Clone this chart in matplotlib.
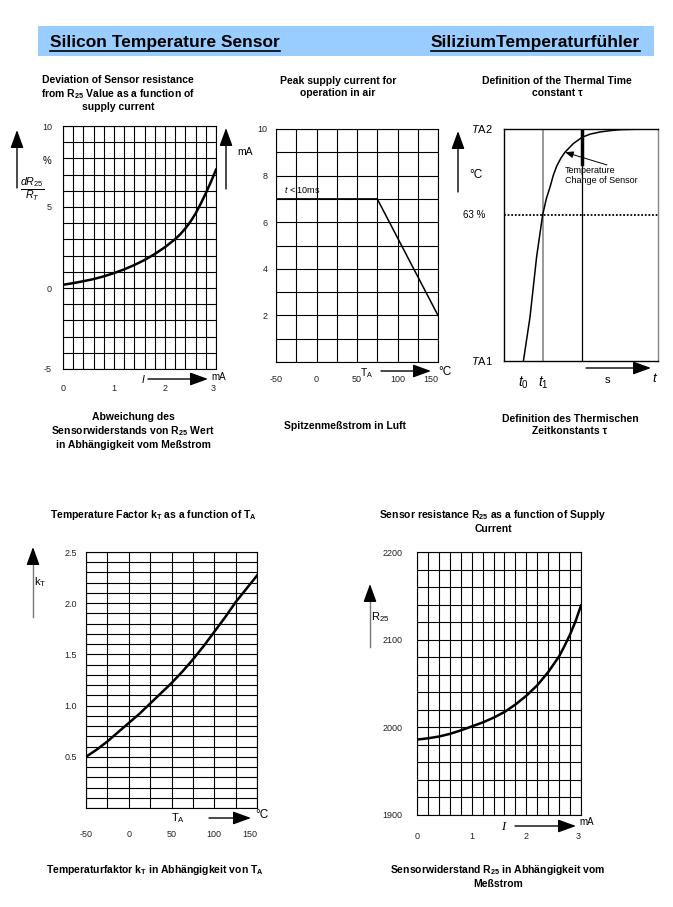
import numpy as np
import matplotlib
matplotlib.use('Agg')
import matplotlib.pyplot as plt
from matplotlib.patches import Rectangle

plt.rcParams['font.family'] = ['Liberation Sans', 'DejaVu Sans']
plt.rcParams['mathtext.fontset'] = 'custom'
plt.rcParams['mathtext.rm'] = 'Liberation Sans'
plt.rcParams['mathtext.it'] = 'Liberation Sans:italic'
plt.rcParams['mathtext.bf'] = 'Liberation Sans:bold'
plt.rcParams['mathtext.default'] = 'regular'

# Deviation of sensor resistance vs supply current (mA -> %)
dev_current = [0, 0.2, 0.4, 0.6, 0.8, 1.0, 1.2, 1.4, 1.6, 1.8, 2.0, 2.2, 2.3, 2.4, 2.5,
               2.6, 2.7, 2.8, 2.9, 3.0]
dev_percent = [0.2, 0.3, 0.42, 0.55, 0.72, 0.92, 1.15, 1.42, 1.73, 2.1, 2.52, 3.02, 3.32,
               3.68, 4.1, 4.6, 5.2, 5.85, 6.55, 7.3]

# Peak supply current in air (degC -> mA)
peak_temp = [-50, 75, 150]
peak_current = [7, 7, 2]

# Thermal time constant (relative time -> fraction of TA2-TA1)
tau_time = [1.26, 1.69, 2.12, 2.51, 2.75, 2.99, 3.2, 3.42, 3.7, 3.96, 4.5, 5.06, 5.6,
            6.23, 6.9, 7.53, 8.5, 9.5]
tau_level = [0.0, 0.19, 0.45, 0.63, 0.70, 0.75, 0.80, 0.84, 0.875, 0.90, 0.937, 0.964,
             0.978, 0.987, 0.993, 0.997, 0.999, 1.0]
t0, t1, t_s = 1.26, 2.53, 5.06

# Temperature factor kT vs TA
kt_temp = [-50, -37.5, -25, -12.5, 0, 12.5, 25, 37.5, 50, 62.5, 75, 87.5, 100, 112.5,
           125, 137.5, 150]
kt_value = [0.5, 0.57, 0.65, 0.74, 0.83, 0.92, 1.02, 1.12, 1.22, 1.33, 1.45, 1.58, 1.72,
            1.86, 2.01, 2.14, 2.27]

# Sensor resistance R25 vs supply current
r25_current = [0, 0.2, 0.4, 0.6, 0.8, 1.0, 1.2, 1.4, 1.6, 1.8, 2.0, 2.2, 2.4, 2.6, 2.7,
               2.8, 2.9, 3.0]
r25_value = [1986, 1987.5, 1989.5, 1992.5, 1996.5, 2001, 2005.5, 2011, 2017.5, 2026, 2036,
             2048, 2063, 2081, 2093, 2106, 2121, 2139]

W, H = 673, 907
fig = plt.figure(figsize=(W / 100, H / 100), dpi=100)

def panel(l, t, r, b):
    return fig.add_axes([l / W, 1 - b / H, (r - l) / W, (b - t) / H])

def grid_setup(ax, xlim, ylim, xstep, ystep, xticks, yticks, ylabels, xpad, ypad):
    ax.set_xlim(xlim)
    ax.set_ylim(ylim)
    ax.set_xticks(np.arange(xlim[0], xlim[1] + xstep / 2, xstep), minor=True)
    ax.set_yticks(np.arange(ylim[0], ylim[1] + ystep / 2, ystep), minor=True)
    ax.set_xticks(xticks)
    ax.set_xticklabels([str(v) for v in xticks])
    ax.set_yticks(yticks)
    ax.set_yticklabels(ylabels)
    ax.tick_params(which='both', length=0, labelsize=6.5, labelcolor='#222222')
    ax.tick_params(axis='x', pad=xpad)
    ax.tick_params(axis='y', pad=ypad)
    ax.grid(which='both', color='black', lw=0.8)
    for s in ax.spines.values():
        s.set_linewidth(0.8)

# panel 1: deviation
ax1 = panel(63, 126, 216, 369)
grid_setup(ax1, (0, 3), (-5, 10), 0.2, 1, [0, 1, 2, 3], [-5, 0, 5, 10],
           ['-5', '0', '5', '10'], 10.5, 8)
ax1.get_xticklabels()[-1].set_ha('right')
ax1.plot(dev_current, dev_percent, color='black', lw=1.8)

# panel 2: peak current
ax2 = panel(276, 129, 438, 362)
grid_setup(ax2, (-50, 150), (0, 10), 25, 1, [-50, 0, 50, 100, 150], [2, 4, 6, 8, 10],
           ['2', '4', '6', '8', '10'], 9.5, 6)
ax2.get_xticklabels()[-1].set_ha('right')
ax2.plot(peak_temp, peak_current, color='black', lw=1.1)
ax2.text(-40, 7.4, r'$\mathit{t}$ < 10ms', fontsize=6.5, va='center')

# panel 3: thermal time constant
ax3 = panel(504, 129, 658, 361)
ax3.set_xlim(0, 10)
ax3.set_ylim(0, 1)
ax3.set_xticks([])
ax3.set_yticks([])
for s in ax3.spines.values():
    s.set_linewidth(1)
ax3.spines['right'].set_color('#888888')
ax3.axvline(t1, color='#888888', lw=1.2)
ax3.axvline(t_s, color='black', lw=0.9)
ax3.plot([t_s, t_s], [0.85, 1], color='black', lw=2.5)
ax3.axhline(0.63, color='black', lw=1.3, ls=(0, (1, 1)))
ax3.plot(tau_time, tau_level, color='black', lw=1.1)
ax3.annotate('', xy=(3.96, 0.90), xytext=(6.69, 0.845),
             arrowprops=dict(arrowstyle='-|>,head_length=0.5,head_width=0.2',
                             color='black', lw=0.7, mutation_scale=10,
                             shrinkA=0, shrinkB=0))
ax3.text(3.96, 0.80, 'Temperature\nChange of Sensor', fontsize=6.5, va='center', ha='left')
tr = ax3.get_xaxis_transform()
ax3.text(t0, -0.095, r'$\mathit{t}_{\mathit{0}}$', transform=tr, fontsize=10, ha='center', va='center')
ax3.text(t1, -0.095, r'$\mathit{t}_{\mathit{1}}$', transform=tr, fontsize=10, ha='center', va='center')

# panel 4: kT
ax4 = panel(86, 552, 257, 808)
grid_setup(ax4, (-50, 150), (0, 2.5), 25, 0.1, [-50, 0, 50, 100, 150],
           [0.5, 1.0, 1.5, 2.0, 2.5], ['0.5', '1.0', '1.5', '2.0', '2.5'], 16, 6.5)
ax4.get_xticklabels()[-1].set_ha('right')
ax4.plot(kt_temp, kt_value, color='black', lw=1.8)

# panel 5: R25
ax5 = panel(417, 552, 581, 815)
grid_setup(ax5, (0, 3), (1900, 2200), 0.2, 20, [0, 1, 2, 3],
           [1900, 2000, 2100, 2200], ['1900', '2000', '2100', '2200'], 12.5, 10.5)
ax5.get_xticklabels()[-1].set_ha('right')
ax5.plot(r25_current, r25_value, color='black', lw=1.8)

# overlay in figure pixels for header, titles and axis arrows
ov = fig.add_axes([0, 0, 1, 1])
ov.set_xlim(0, W)
ov.set_ylim(H, 0)
ov.axis('off')
ov.patch.set_visible(False)

ov.add_patch(Rectangle((38, 26), 616, 30, color='#99CCFF', lw=0))
h1 = ov.text(50, 47, 'Silicon Temperature Sensor', fontsize=12.5, fontweight='bold', va='baseline')
h2 = ov.text(640, 47, 'SiliziumTemperaturfühler', fontsize=12.5, fontweight='bold',
             va='baseline', ha='right')

def title(x, y, s):
    ov.text(x, y, s, fontsize=7.5, fontweight='bold', ha='center', va='center')

title(118, 93.5, 'Deviation of Sensor resistance\nfrom R$_{25}$ Value as a function of\nsupply current')
title(338, 87, 'Peak supply current for\noperation in air')
title(557, 87, 'Definition of the Thermal Time\nconstant τ')
title(133, 431, 'Abweichung des\nSensorwiderstands von R$_{25}$ Wert\nin Abhängigkeit vom Meßstrom')
title(345, 426, 'Spitzenmeßstrom in Luft')
title(570, 425, 'Definition des Thermischen\nZeitkonstants τ')
title(153, 515, 'Temperature Factor k$_T$ as a function of T$_A$')
title(493, 521, 'Sensor resistance R$_{25}$ as a function of Supply\nCurrent')
title(155, 870, 'Temperaturfaktor k$_T$ in Abhängigkeit von T$_A$')
title(498, 876, 'Sensorwiderstand R$_{25}$ in Abhängigkeit vom\nMeßstrom')

def label(x, y, s, size=7.5, **kw):
    ov.text(x, y, s, fontsize=size, ha=kw.pop('ha', 'center'), va='center', **kw)

def arrow(x0, y0, x1, y1):
    ov.annotate('', xy=(x1, y1), xytext=(x0, y0),
                arrowprops=dict(arrowstyle='-|>,head_length=0.55,head_width=0.2',
                                color='black', lw=1, mutation_scale=20,
                                shrinkA=0, shrinkB=0))

# panel 1 labels
label(47, 161, '%', 7)
label(32, 189, r'$\frac{\mathit{dR}_{\mathit{25}}}{\mathit{R}_{\mathit{T}}}$', 11)
label(143, 379, r'$\mathit{I}$', 7.5)
label(219, 377, 'mA', 7)
arrow(17, 188, 17, 130)
arrow(148, 379, 208, 379)

# panel 2 labels
label(245, 152, 'mA', 7.5)
label(367, 373, 'T$_A$', 7.5)
label(445, 372, '°C', 8.5)
arrow(226, 189, 226, 128)
arrow(381, 371, 431, 371)

# panel 3 labels
label(493, 129, r'$\mathit{T}$A2', 8, ha='right')
label(493, 361, r'$\mathit{T}$A1', 8, ha='right')
label(474, 215, '63 %', 7)
label(476, 175, '°C', 8.5)
label(607, 380, 's', 8)
label(655, 379, r'$\mathit{t}$', 9.5)
arrow(458, 192, 458, 131)
arrow(586, 368, 651, 368)

# panel 4 labels
label(40, 582, 'k$_T$', 8)
label(178, 818, 'T$_A$', 8)
label(262, 815, '°C', 8.5)
ov.plot([33, 33], [617, 562], color='#777777', lw=1)
arrow(33, 564, 33, 547)
arrow(209, 818, 251, 818)

# panel 5 labels
label(380, 617, 'R$_{25}$', 8)
ov.text(503, 827, 'I', fontsize=9, family='Liberation Serif', style='italic', ha='center', va='center')
label(587, 822, 'mA', 7)
ov.plot([370, 370], [647, 599], color='#777777', lw=1)
arrow(370, 601, 370, 584)
arrow(515, 826, 576, 826)

# underline the header texts
fig.canvas.draw()
for h in (h1, h2):
    bb = h.get_window_extent()
    ov.plot([bb.x0, bb.x1], [51, 51], color='black', lw=1.2)

fig.savefig('out.png', dpi=100)
